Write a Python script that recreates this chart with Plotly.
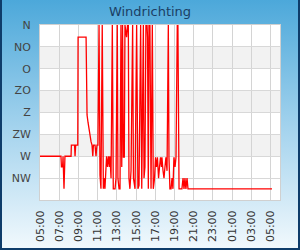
import base64
from datetime import datetime, timedelta
import plotly.graph_objects as go

# ---- data ----
times = ["05:00", "07:11", "07:14", "07:21", "07:24", "07:30", "07:36", "08:14", "08:16", "08:36",
         "08:39", "08:43", "08:56", "08:58", "09:48", "09:54", "10:00", "10:06", "10:13", "10:19",
         "10:25", "10:30", "10:34", "10:44", "10:50", "10:56", "11:02", "11:09", "11:15", "11:21",
         "11:29", "11:36", "11:40", "11:46", "11:51", "11:56", "12:02", "12:08", "12:14", "12:17",
         "12:24", "12:32", "12:38", "12:49", "12:55", "13:03", "13:07", "13:14", "13:20", "13:26",
         "13:31", "13:36", "13:41", "13:47", "13:51", "14:01", "14:07", "14:12", "14:16", "14:22",
         "14:29", "14:39", "14:44", "14:54", "15:04", "15:09", "15:12", "15:19", "15:29", "15:36",
         "15:46", "15:50", "15:56", "16:02", "16:09", "16:12", "16:17", "16:21", "16:27", "16:34",
         "16:42", "16:48", "16:56", "17:02", "17:08", "17:14", "17:21", "17:27", "17:33", "17:39",
         "17:42", "17:49", "17:55", "18:01", "18:07", "18:14", "18:22", "18:26", "18:32", "18:39",
         "18:45", "18:51", "18:57", "19:04", "19:10", "19:18", "19:22", "19:29", "19:35", "19:47",
         "19:54", "20:00", "20:06", "20:12", "20:19", "20:25", "23:00", "02:00", "05:10"]
direction_deg = [270, 270, 292, 292, 270, 337, 270, 270, 247, 247,
                 270, 247, 247, 25, 25, 185, 200, 215, 225, 240,
                 247, 270, 247, 247, 270, 247, 247, 0, 309, 337,
                 0, 337, 315, 337, 292, 270, 292, 270, 292, 270,
                 315, 0, 337, 337, 315, 0, 315, 337, 337, 0,
                 292, 0, 272, 272, 0, 25, 0, 0, 315, 337,
                 300, 0, 315, 337, 0, 315, 337, 330, 0, 337,
                 0, 315, 292, 0, 0, 25, 337, 0, 0, 337,
                 0, 337, 315, 272, 292, 272, 315, 292, 272, 292,
                 272, 300, 315, 292, 272, 300, 0, 272, 337, 337,
                 315, 337, 272, 292, 272, 0, 0, 337, 337, 337,
                 315, 337, 315, 337, 315, 337, 337, 337, 337]
dir_ticks = [0, 45, 90, 135, 180, 225, 270, 315]
dir_labels = ["N", "NO", "O", "ZO", "Z", "ZW", "W", "NW"]
band_ranges = [(45, 90), (135, 180), (225, 270)]

# build datetimes with day rollover
base = datetime(2024, 5, 1)
xs = []
day = 0
prev = None
for t in times:
    h, m = map(int, t.split(":"))
    cur = h * 60 + m
    if prev is not None and cur < prev:
        day += 1
    prev = cur
    xs.append(base + timedelta(days=day, hours=h, minutes=m))

x0 = base + timedelta(hours=5)
x1 = base + timedelta(days=1, hours=6)

svg = """<svg xmlns='http://www.w3.org/2000/svg' width='300' height='250'>
<defs><linearGradient id='g' x1='0' y1='0' x2='0' y2='1'>
<stop offset='0' stop-color='#4ca8da'/><stop offset='0.5' stop-color='#a2d2ed'/><stop offset='1' stop-color='#f2f9fd'/>
</linearGradient></defs>
<rect x='0' y='0' width='300' height='250' fill='url(#g)'/>
<path d='M1,0 L1,249 L299,249 L299,0' fill='none' stroke='#0e3c6a' stroke-width='2'/>
</svg>"""
src = "data:image/svg+xml;base64," + base64.b64encode(svg.encode()).decode()

fig = go.Figure()
fig.add_trace(go.Scatter(x=xs, y=direction_deg, mode="lines",
                         line=dict(color="#ff0000", width=1.3), hoverinfo="skip"))

shapes = [dict(type="rect", xref="x", yref="y", x0=x0, x1=x1, y0=0, y1=360,
               fillcolor="white", line=dict(width=0), layer="below")]
for a, b in band_ranges:
    shapes.append(dict(type="rect", xref="x", yref="y", x0=x0, x1=x1, y0=a, y1=b,
                       fillcolor="#f2f2f2", line=dict(width=0), layer="below"))

fig.update_layout(
    width=300, height=250,
    margin=dict(l=40, r=20, t=25, b=50),
    paper_bgcolor="#8cc6e6", plot_bgcolor="white",
    showlegend=False,
    title=dict(text="Windrichting", x=0.5, xanchor="center", y=1 - 11 / 250, yanchor="middle",
               font=dict(family="DejaVu Sans", size=13, color="#1b3e64")),
    images=[dict(source=src, xref="paper", yref="paper", x=-40 / 240, y=1 + 25 / 175,
                 sizex=300 / 240, sizey=250 / 175, sizing="stretch", layer="below",
                 xanchor="left", yanchor="top")],
    shapes=shapes,
    xaxis=dict(type="date", range=[x0, x1], tick0=x0, dtick=2 * 3600000, tickformat="%H:%M",
               tickangle=-90, showgrid=True, gridcolor="#d4d4d4", gridwidth=1,
               showline=True, linecolor="#d0d0d0", mirror=True, ticks="",
               ticklabelstandoff=5, automargin=False,
               tickfont=dict(family="DejaVu Sans", size=11, color="#333333"), zeroline=False),
    yaxis=dict(range=[360, 0], tickvals=dir_ticks, ticktext=dir_labels,
               showgrid=True, gridcolor="#d8d8d8", gridwidth=1,
               showline=True, linecolor="#d0d0d0", mirror=True, ticks="",
               ticklabelstandoff=6, automargin=False,
               tickfont=dict(family="DejaVu Sans", size=11, color="#444444"), zeroline=False),
)
fig.write_html("out.html")
